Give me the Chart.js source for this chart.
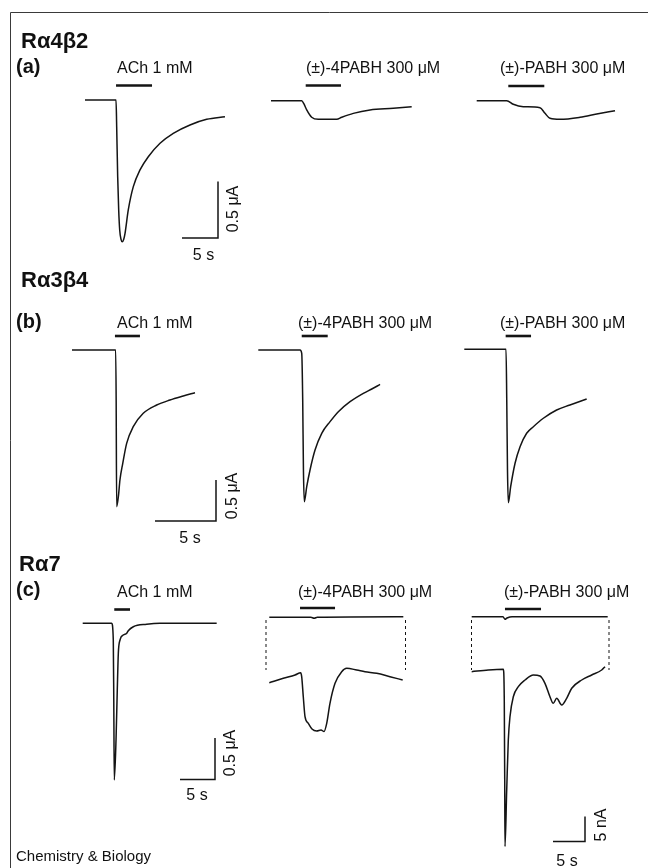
<!DOCTYPE html>
<html>
<head>
<meta charset="utf-8">
<script src="https://cdn.jsdelivr.net/npm/chart.js@4.4.1/dist/chart.umd.min.js"></script>
<style>
  html, body { margin: 0; padding: 0; background: #fff; }
  #wrap { position: relative; width: 648px; height: 868px; }
</style>
</head>
<body>
<div id="wrap"><canvas id="fig" width="648" height="868"></canvas></div>
<script>
// ============================================
// DATA  (time in s, current in µA; the magnified α7 traces in nA; inward current is negative)
// ============================================
const receptors = ['Rα4β2', 'Rα3β4', 'Rα7'];
const panelTags = ['(a)', '(b)', '(c)'];
const agonists = ['ACh 1 mM', '(±)-4PABH 300 μM', '(±)-PABH 300 μM'];

// row (a) Rα4β2
const a1Time = [0, 4.31, 4.40, 4.54, 4.68, 4.82, 5.00, 5.18, 5.38, 5.56, 6.01, 6.71, 7.64, 8.79, 10.42, 12.26, 14.58, 16.90, 19.44];
const a1Curr = [0, 0, -0.236, -0.679, -0.973, -1.150, -1.232, -1.254, -1.232, -1.180, -0.973, -0.767, -0.619, -0.502, -0.383, -0.295, -0.221, -0.171, -0.148];
const a2Time = [0, 4.26, 4.58, 4.96, 5.65, 6.57, 9.13, 9.82, 11.43, 13.75, 16.99, 19.54];
const a2Curr = [0, 0, -0.029, -0.082, -0.147, -0.165, -0.165, -0.147, -0.112, -0.082, -0.067, -0.053];
const a3Time = [0, 4.17, 5.08, 6.47, 8.79, 9.49, 10.18, 11.57, 14.35, 16.67, 19.21];
const a3Curr = [0, 0, -0.032, -0.053, -0.062, -0.112, -0.156, -0.165, -0.147, -0.118, -0.088];

// row (b) Rα3β4
const b1Time = [0, 3.58, 3.62, 3.66, 3.80, 3.93, 4.16, 4.48, 5.02, 5.84, 6.94, 8.03, 9.12, 10.08];
const b1Curr = [0, 0, -0.61, -1.911, -1.789, -1.585, -1.382, -1.138, -0.935, -0.772, -0.671, -0.610, -0.561, -0.521];
const b2Time = [0, 3.42, 3.56, 3.64, 3.70, 3.77, 3.97, 4.24, 4.65, 5.20, 5.88, 6.56, 7.52, 8.61, 9.30, 9.98];
const b2Curr = [0, 0, -0.040, -0.610, -1.463, -1.850, -1.667, -1.463, -1.220, -1.016, -0.874, -0.752, -0.630, -0.528, -0.476, -0.420];
const b3Time = [0, 3.42, 3.48, 3.54, 3.61, 3.80, 4.16, 4.57, 5.11, 5.66, 6.48, 7.57, 8.66, 10.03];
const b3Curr = [0, 0, -0.618, -1.472, -1.871, -1.676, -1.390, -1.188, -1.024, -0.944, -0.841, -0.740, -0.679, -0.606];

// row (c) Rα7
const c1Time = [0, 4.14, 4.37, 4.44, 4.51, 4.76, 4.94, 5.09, 5.33, 5.80, 6.29, 6.51, 7.23, 9.14, 11.04, 19.14];
const c1Curr = [0, 0, -0.201, -0.924, -1.887, -1.406, -0.804, -0.361, -0.201, -0.141, -0.120, -0.089, -0.041, -0.012, 0, 0];
const c2Time = [0, 6.5, 7.0, 7.5, 20.94];
const c2Curr = [0, 0, -0.012, 0, 0.007];
const c2nTime = [0, 2.19, 4.02, 4.91, 5.06, 5.31, 5.58, 6.09, 6.67, 7.41, 8.08, 8.55, 8.97, 9.48, 10.27, 11.31, 12.09, 13.66, 14.95, 16.78, 18.86, 20.84];
const c2nCurr = [-2.54, -1.66, -1.0, -0.54, -1.34, -5.34, -9.34, -10.66, -11.8, -12.2, -12.0, -12.3, -10.66, -6.66, -2.66, -0.34, 0.34, 0, -0.34, -0.66, -1.34, -2.0];
const c3Time = [0, 4.89, 5.2, 5.52, 6.3, 21.25];
const c3Curr = [0, 0, -0.031, -0.016, 0, 0];
const c3nTime = [0, 2.59, 4.94, 5.09, 5.16, 5.20, 5.47, 5.72, 5.98, 6.5, 7.28, 8.33, 9.63, 10.67, 11.45, 12.23, 12.75, 13.28, 14.06, 14.84, 15.63, 17.19, 18.75, 20.31, 20.83];
const c3nCurr = [-0.34, 0, 0.14, -6, -22, -35.3, -24, -14, -9.34, -5.34, -3.34, -2.0, -1.0, -1.2, -2.66, -5.34, -6.66, -5.66, -7.0, -5.66, -3.66, -2.0, -1.0, 0, 0.66];

// drug application (on, off) in s
const rowAApp = [[4.31, 9.31], [4.82, 9.72], [4.39, 9.39]];
const rowBApp = [[3.52, 5.57], [3.56, 5.69], [3.39, 5.47]];
const rowCApp = [[4.51, 6.76], [4.80, 10.27], [5.20, 10.83]];

// ============================================
// LAYOUT  (page px: where t=0 / I=0 sit and how many px per s and per unit)
// ============================================
const W = 648, H = 868;
const panels = {
  a1: { x0: 85, y0: 100, pxs: 7.2, pxu: 113 },
  a2: { x0: 271, y0: 100.7, pxs: 7.2, pxu: 113 },
  a3: { x0: 476.7, y0: 100.7, pxs: 7.2, pxu: 113 },
  b1: { x0: 72, y0: 350, pxs: 12.2, pxu: 82 },
  b2: { x0: 258.3, y0: 350, pxs: 12.2, pxu: 82 },
  b3: { x0: 464.3, y0: 349.3, pxs: 12.2, pxu: 82 },
  c1: { x0: 82.7, y0: 623.3, pxs: 7, pxu: 83 },
  c2: { x0: 269.3, y0: 617.3, pxs: 6.4, pxu: 83 },
  c2n: { x0: 269.3, y0: 670, pxs: 6.4, pxu: 5 },
  c3: { x0: 471.7, y0: 616.7, pxs: 6.4, pxu: 83 },
  c3n: { x0: 471.7, y0: 670, pxs: 6.4, pxu: 5 }
};

const traces = [
  ['a1', a1Time, a1Curr], ['a2', a2Time, a2Curr], ['a3', a3Time, a3Curr],
  ['b1', b1Time, b1Curr], ['b2', b2Time, b2Curr], ['b3', b3Time, b3Curr],
  ['c1', c1Time, c1Curr], ['c2', c2Time, c2Curr], ['c2n', c2nTime, c2nCurr],
  ['c3', c3Time, c3Curr], ['c3n', c3nTime, c3nCurr]
];

// application bars: panel, times, bar height on page
const appBars = [
  ['a1', rowAApp[0], 85.5], ['a2', rowAApp[1], 85.5], ['a3', rowAApp[2], 86],
  ['b1', rowBApp[0], 336], ['b2', rowBApp[1], 336], ['b3', rowBApp[2], 336],
  ['c1', rowCApp[0], 609.5], ['c2', rowCApp[1], 608], ['c3', rowCApp[2], 609]
];

// scale bars: panel, corner on page, size in s and in units
const scaleBars = [
  ['a1', [218, 238], 5, 0.5],
  ['b1', [216, 521], 5, 0.5],
  ['c1', [215, 779.5], 5, 0.5],
  ['c3n', [585, 841.5], 5, 5]
];

// dashed frames linking the µA traces to their nA magnification
const dashFrames = [
  ['c2n', [266, 405.5], [620, 670]],
  ['c3n', [471.5, 609], [620, 670]]
];

const FONT = '"Liberation Sans", Arial, Helvetica, sans-serif';
const texts = [
  { s: receptors[0], x: 21, y: 48, f: 'bold 22px ' + FONT },
  { s: panelTags[0], x: 16, y: 73, f: 'bold 20px ' + FONT },
  { s: receptors[1], x: 21, y: 287, f: 'bold 22px ' + FONT },
  { s: panelTags[1], x: 16, y: 328, f: 'bold 20px ' + FONT },
  { s: receptors[2], x: 19, y: 571, f: 'bold 22px ' + FONT },
  { s: panelTags[2], x: 16, y: 596, f: 'bold 20px ' + FONT },
  { s: agonists[0], x: 117, y: 73 }, { s: agonists[1], x: 306, y: 73 }, { s: agonists[2], x: 500, y: 73 },
  { s: agonists[0], x: 117, y: 328 }, { s: agonists[1], x: 298, y: 328 }, { s: agonists[2], x: 500, y: 328 },
  { s: agonists[0], x: 117, y: 597 }, { s: agonists[1], x: 298, y: 597 }, { s: agonists[2], x: 504, y: 597 },
  { s: '5 s', x: 203.5, y: 260, a: 'center' },
  { s: '0.5 μA', x: 234, y: 209, a: 'center', b: 'middle', r: -Math.PI / 2 },
  { s: '5 s', x: 190, y: 543, a: 'center' },
  { s: '0.5 μA', x: 233, y: 496, a: 'center', b: 'middle', r: -Math.PI / 2 },
  { s: '5 s', x: 197, y: 800, a: 'center' },
  { s: '0.5 μA', x: 231, y: 753, a: 'center', b: 'middle', r: -Math.PI / 2 },
  { s: '5 s', x: 567, y: 866, a: 'center' },
  { s: '5 nA', x: 602, y: 825, a: 'center', b: 'middle', r: -Math.PI / 2 },
  { s: 'Chemistry & Biology', x: 16, y: 861, f: '15px ' + FONT }
];

// ============================================
// BUILD CHART
// ============================================
function toData(key, px, py) {
  const p = panels[key];
  return { x: (px - p.x0) / p.pxs, y: (p.y0 - py) / p.pxu };
}

const scales = {};
Object.keys(panels).forEach(k => {
  const p = panels[k];
  scales['x_' + k] = { type: 'linear', axis: 'x', display: false, min: -p.x0 / p.pxs, max: (W - p.x0) / p.pxs };
  scales['y_' + k] = { type: 'linear', axis: 'y', display: false, min: -(H - p.y0) / p.pxu, max: p.y0 / p.pxu };
});

function lineSet(key, pts, extra) {
  return Object.assign({
    data: pts, xAxisID: 'x_' + key, yAxisID: 'y_' + key,
    showLine: true, pointRadius: 0, borderColor: '#141414', borderWidth: 1.5, fill: false
  }, extra || {});
}

const datasets = [];
traces.forEach(([k, t, c]) => {
  datasets.push(lineSet(k, t.map((v, i) => ({ x: v, y: c[i] })), { cubicInterpolationMode: 'monotone' }));
});
appBars.forEach(([k, onOff, yPx]) => {
  const lvl = toData(k, 0, yPx).y;
  datasets.push(lineSet(k, [{ x: onOff[0], y: lvl }, { x: onOff[1], y: lvl }], { borderWidth: 2.6, borderCapStyle: 'butt' }));
});
scaleBars.forEach(([k, corner, dt, du]) => {
  const c = toData(k, corner[0], corner[1]);
  datasets.push(lineSet(k, [{ x: c.x - dt, y: c.y }, { x: c.x, y: c.y }, { x: c.x, y: c.y + du }], { borderWidth: 1.5 }));
});
dashFrames.forEach(([k, xs, ys]) => {
  xs.forEach(px => {
    const top = toData(k, px, ys[0]), bot = toData(k, px, ys[1]);
    datasets.push(lineSet(k, [top, bot], { borderWidth: 1, borderDash: [3, 3] }));
  });
});

const decorPlugin = {
  id: 'decor',
  afterDraw(chart) {
    const ctx = chart.ctx;
    ctx.save();
    // figure frame
    ctx.strokeStyle = '#3a3a3a';
    ctx.lineWidth = 1;
    ctx.beginPath();
    ctx.moveTo(10.5, H);
    ctx.lineTo(10.5, 12.5);
    ctx.lineTo(W, 12.5);
    ctx.stroke();
    // labels
    ctx.fillStyle = '#111';
    texts.forEach(t => {
      ctx.save();
      ctx.font = t.f || ('16px ' + FONT);
      ctx.textAlign = t.a || 'left';
      ctx.textBaseline = t.b || 'alphabetic';
      ctx.translate(t.x, t.y);
      if (t.r) ctx.rotate(t.r);
      ctx.fillText(t.s, 0, 0);
      ctx.restore();
    });
    ctx.restore();
  }
};

new Chart(document.getElementById('fig'), {
  type: 'scatter',
  data: { datasets },
  options: {
    responsive: false,
    animation: false,
    devicePixelRatio: 1,
    events: [],
    layout: { padding: 0 },
    plugins: { legend: { display: false }, tooltip: { enabled: false } },
    scales
  },
  plugins: [decorPlugin]
});
</script>
</body>
</html>
